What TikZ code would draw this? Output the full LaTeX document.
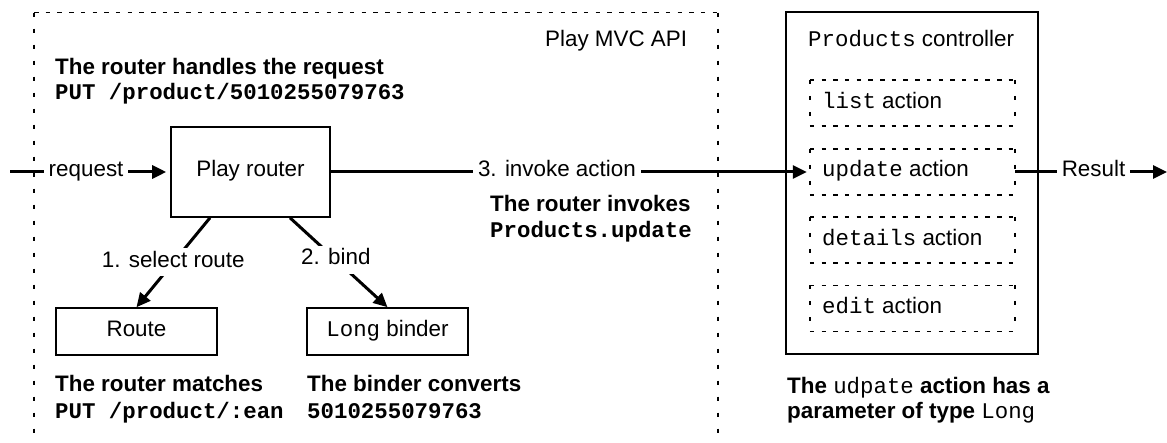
\documentclass[tikz,border=0pt]{standalone}
\usepackage{fontspec}
\setmainfont{Liberation Sans}
\setmonofont{Liberation Mono}
\usetikzlibrary{arrows.meta}

\begin{document}
\begin{tikzpicture}[x=1pt,y=-1pt,
  every node/.style={font=\fontsize{22.4}{25}\selectfont, inner sep=0pt},
  box/.style={draw, line width=1.6pt, rectangle, text height=15pt, text depth=5pt},
  conn/.style={line width=3pt, -{Triangle[length=14pt,width=13pt]}},
  lbl/.style={fill=white, inner xsep=5pt, inner ysep=4pt, text height=15pt, text depth=5pt},
  note/.style={anchor=base west, font=\fontsize{22.4}{25}\selectfont\bfseries},
  code/.style={anchor=base west, font=\fontsize{22.4}{25}\selectfont\ttfamily\bfseries},
  plainlabel/.style={anchor=base west},
  hdash/.style={line width=1.5pt, dash pattern=on 4.5pt off 7.2pt},
  vdash/.style={line width=1.5pt, dash pattern=on 4pt off 12pt},
  slot/.style={minimum width=205pt, minimum height=46pt},
]
\useasboundingbox (0,0) rectangle (1167,443);

% Play MVC API boundary (open at the bottom)
\draw[hdash] (34,12.7) -- (718,12.7);
\draw[vdash] (34,12.7) -- (34,443);
\draw[vdash] (718,12.7) -- (718,443);
\node[plainlabel] (mvc) at (545,47) {Play MVC API};

% router and its collaborators
\node[box, minimum width=159pt, minimum height=90pt] (router) at (250.5,172) {Play router};
\node[box, minimum width=161pt, minimum height=47pt] (route) at (136.5,331.5) {Route};
\node[box, minimum width=161pt, minimum height=47pt] (binder) at (387.5,331.5) {\texttt{Long} binder};

% controller with its actions
\node[draw, line width=1.6pt, minimum width=252pt, minimum height=342pt] (ctrl) at (912,183) {};
\node[plainlabel] (ctitle) at (808,47) {\texttt{Products} controller};

\node[slot] (list) at (912.5,103) {};
\node[slot] (update) at (912.5,172) {};
\node[slot] (details) at (912.5,240) {};
\node[slot] (edit) at (912.5,308.5) {};
\foreach \s in {list,update,details,edit}{
  \draw[hdash] (\s.north west) -- (\s.north east);
  \draw[hdash] (\s.south west) -- (\s.south east);
  \draw[vdash] (\s.north west) -- (\s.south west);
  \draw[vdash] (\s.north east) -- (\s.south east);
}
\node[plainlabel] (listtxt) at (822,109) {\texttt{list} action};
\node[plainlabel] (updatetxt) at (822,177) {\texttt{update} action};
\node[plainlabel] (detailstxt) at (822,246) {\texttt{details} action};
\node[plainlabel] (edittxt) at (822,314) {\texttt{edit} action};

% request flow
\coordinate (in) at (10,172);
\coordinate (out) at (1167,172);
\draw[conn, shorten >=4pt] (in) -- node[lbl, pos=0.475] {request} (router.west);
\draw[conn, shorten >=3pt] (router.east) -- node[lbl, pos=0.472] {3. invoke action} (update.west);
\draw[conn] (update.east) -- node[lbl, pos=0.516] {Result} (out);
\draw[conn] ([xshift=-40.5pt]router.south) -- node[lbl] {1. select route} (route.north);
\draw[conn] ([xshift=39.5pt]router.south) -- node[lbl, pos=0.47] {2. bind} (binder.north);

% explanatory notes
\node[note] (n1) at (55,75) {The router handles the request};
\node[code] (n2) at (55,100) {PUT /product/5010255079763};
\node[note] (n3) at (490,212) {The router invokes};
\node[code] (n4) at (490,238) {Products.update};
\node[note] (n5) at (55,391.5) {The router matches};
\node[code] (n6) at (55,418) {PUT /product/:ean};
\node[note] (n7) at (307,391.5) {The binder converts};
\node[code] (n8) at (307,418) {5010255079763};
\node[note] (n9) at (787,393) {The {\mdseries\ttfamily udpate} action has a};
\node[note] (n10) at (787,418) {parameter of type {\mdseries\ttfamily Long}};
\end{tikzpicture}
\end{document}
